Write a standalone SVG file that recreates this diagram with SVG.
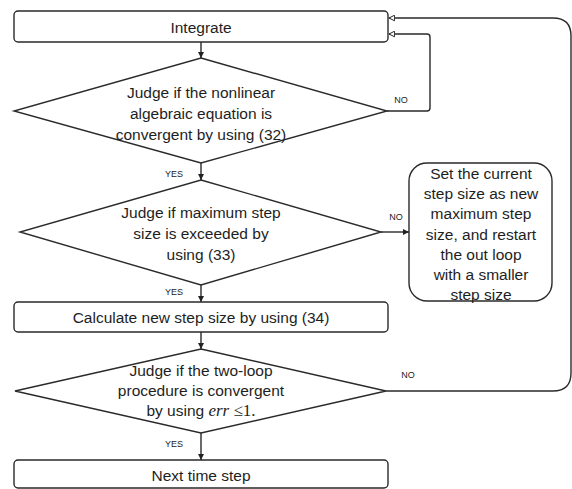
<svg xmlns="http://www.w3.org/2000/svg" width="572" height="489" viewBox="0 0 572 489">
  <defs>
    <marker id="solid" viewBox="0 0 10 10" refX="10" refY="5" markerWidth="6" markerHeight="6" markerUnits="userSpaceOnUse" orient="auto">
      <path d="M0,0 L10,5 L0,10 Z" fill="#222"/>
    </marker>
    <marker id="open" viewBox="0 0 10 10" refX="9" refY="5" markerWidth="7" markerHeight="7" markerUnits="userSpaceOnUse" orient="auto">
      <path d="M1,1 L9,5 L1,9 Z" fill="#fff" stroke="#222" stroke-width="1.4"/>
    </marker>
  </defs>
  <style>
    .shape { fill: #fff; stroke: #2a2a2a; stroke-width: 1.4; }
    .link { fill: none; stroke: #2a2a2a; stroke-width: 1.4; }
    .txt { font-family: "Liberation Sans", Arial, sans-serif; font-size: 15.5px; fill: #1e1e1e; text-anchor: middle; dominant-baseline: central; }
    .lbl { font-family: "Liberation Sans", Arial, sans-serif; font-size: 9px; fill: #222; text-anchor: middle; dominant-baseline: central; }
    .math { font-family: "Liberation Serif", "Times New Roman", serif; font-size: 17px; }
  </style>
  <rect width="572" height="489" fill="#fff"/>

  <!-- connectors -->
  <g id="connectors">
    <line class="link" x1="201" y1="42" x2="201" y2="58" marker-end="url(#solid)"/>
    <line class="link" x1="201" y1="163" x2="201" y2="180" marker-end="url(#solid)"/>
    <line class="link" x1="201" y1="285" x2="201" y2="302" marker-end="url(#solid)"/>
    <line class="link" x1="201" y1="332" x2="201" y2="349" marker-end="url(#solid)"/>
    <line class="link" x1="201" y1="433" x2="201" y2="460" marker-end="url(#solid)"/>
    <line class="link" x1="381" y1="232" x2="409" y2="232" marker-end="url(#solid)"/>
    <path class="link" d="M387,111 H427 Q430,111 430,108 V37 Q430,34 427,34 H389" marker-end="url(#open)"/>
    <path class="link" d="M386,391 H553 Q571,391 571,373 V36 Q571,18 553,18 H389" marker-end="url(#open)"/>
    <text class="lbl" x="401" y="100">NO</text>
    <text class="lbl" x="396" y="217">NO</text>
    <text class="lbl" x="408" y="375">NO</text>
    <text class="lbl" x="174" y="174">YES</text>
    <text class="lbl" x="174" y="292">YES</text>
    <text class="lbl" x="174" y="444">YES</text>
  </g>

  <g id="integrate">
    <rect class="shape" x="14" y="11" width="374" height="31" rx="4"/>
    <text class="txt" x="201" y="27">Integrate</text>
  </g>

  <g id="judge-nonlinear">
    <polygon class="shape" points="201,58 387,111 201,163 14,111"/>
    <text class="txt" x="201" y="92">Judge if the nonlinear</text>
    <text class="txt" x="201" y="113">algebraic equation is</text>
    <text class="txt" x="201" y="134">convergent by using (32)</text>
  </g>

  <g id="judge-max-step">
    <polygon class="shape" points="201,180 381,232 201,285 20,232"/>
    <text class="txt" x="201" y="212">Judge if maximum step</text>
    <text class="txt" x="201" y="233">size is exceeded by</text>
    <text class="txt" x="201" y="254">using (33)</text>
  </g>

  <g id="restart-box">
    <rect class="shape" x="409" y="163" width="143" height="138" rx="18"/>
    <text class="txt" x="481" y="173">Set the current</text>
    <text class="txt" x="481" y="193">step size as new</text>
    <text class="txt" x="481" y="213">maximum step</text>
    <text class="txt" x="481" y="234">size, and restart</text>
    <text class="txt" x="481" y="254">the out loop</text>
    <text class="txt" x="481" y="274">with a smaller</text>
    <text class="txt" x="481" y="294">step size</text>
  </g>

  <g id="calc-step">
    <rect class="shape" x="14" y="302" width="374" height="30" rx="4"/>
    <text class="txt" x="201" y="317">Calculate new step size by using (34)</text>
  </g>

  <g id="judge-two-loop">
    <polygon class="shape" points="201,349 386,391 201,433 15,391"/>
    <text class="txt" x="201" y="370">Judge if the two-loop</text>
    <text class="txt" x="201" y="390">procedure is convergent</text>
    <text class="txt" x="201" y="410">by using <tspan class="math" font-style="italic">err</tspan><tspan class="math"> ≤1.</tspan></text>
  </g>

  <g id="next-step">
    <rect class="shape" x="14" y="460" width="374" height="28" rx="4"/>
    <text class="txt" x="201" y="475">Next time step</text>
  </g>
</svg>
